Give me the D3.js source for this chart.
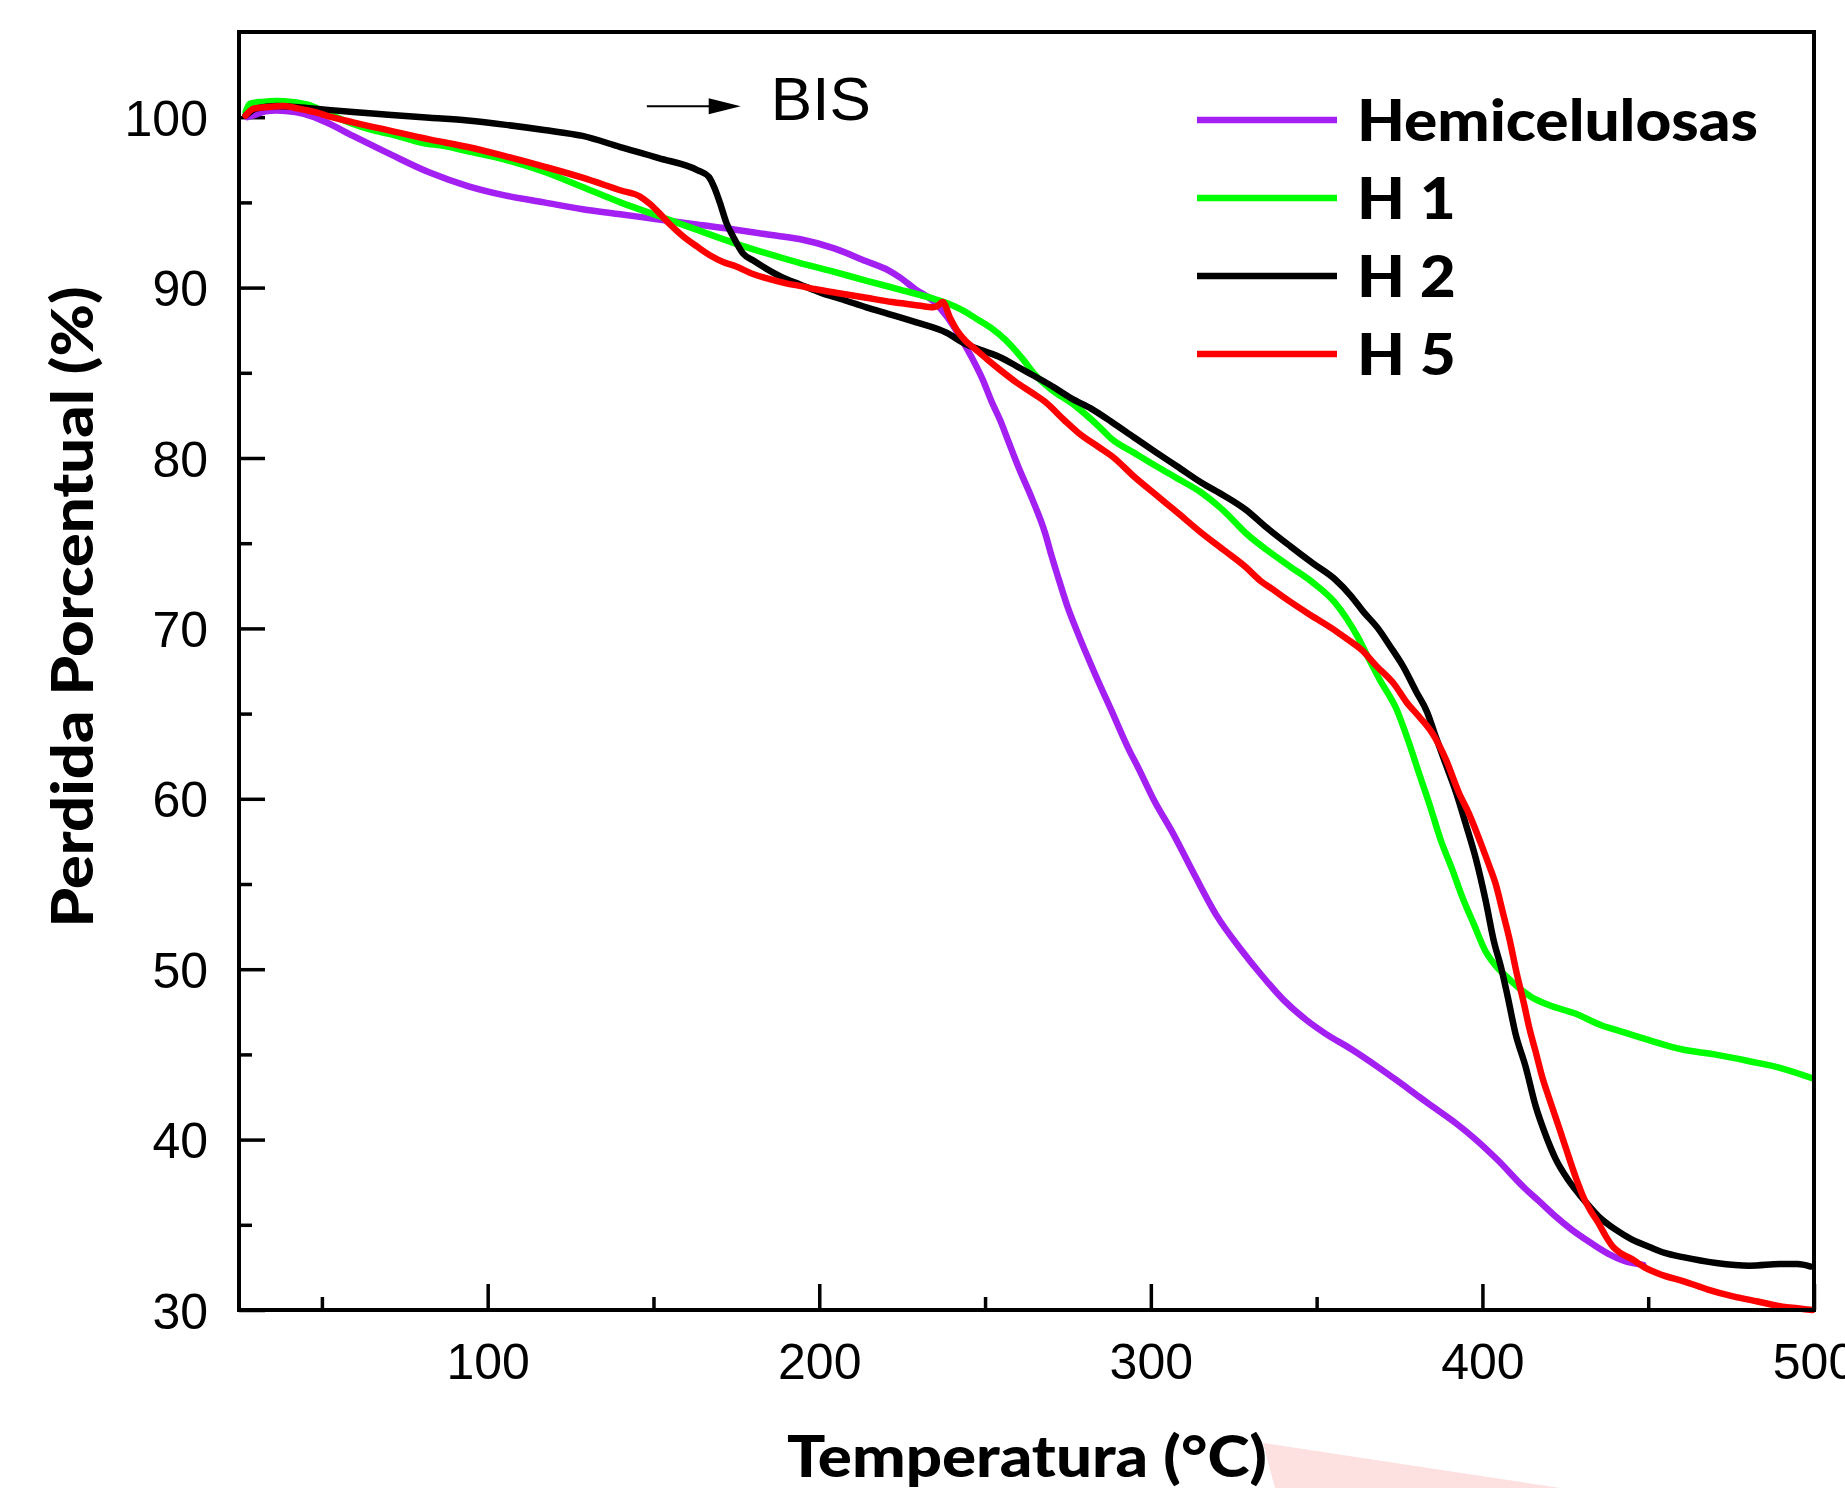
<!DOCTYPE html>
<html><head><meta charset="utf-8">
<script src="https://cdn.jsdelivr.net/npm/d3@7"></script>
<style>html,body{margin:0;padding:0;background:#fff;} svg{display:block;}</style>
</head><body>
<svg id="chart" width="1845" height="1488"></svg>
<script>
// ---------- data ----------
const xTicksMajor = [100, 200, 300, 400, 500];
const xTicksMinor = [50, 150, 250, 350, 450];
const yTicksMajor = [30, 40, 50, 60, 70, 80, 90, 100];
const yTicksMinor = [35, 45, 55, 65, 75, 85, 95];
const seriesNames = ["Hemicelulosas", "H 1", "H 2", "H 5"];
const seriesColors = ["#a31ff2", "#00ff00", "#000000", "#ff0000"];
const xTitle = "Temperatura (°C)";
const yTitle = "Perdida Porcentual (%)";
const annotationText = "BIS";

const hemicelulosas = [[27.5,100.0],[29.4,100.1],[33,100.35],[36.3,100.4],[42,100.3],[47,100.05],[51.3,99.7],[59.4,98.9],[70.9,97.8],[82.5,96.75],[94,95.96],[105.5,95.4],[117,95.0],[128.6,94.6],[140,94.3],[151.6,94.0],[163,93.7],[174.8,93.4],[185,93.1],[194,92.85],[204.5,92.3],[214,91.56],[221,91.0],[224.3,90.6],[229,89.9],[234.4,89.2],[238.5,88.3],[242.5,87.1],[246,85.9],[249.3,84.6],[252,83.3],[254.6,82.2],[257,81.0],[260,79.5],[264.2,77.6],[268.1,75.6],[270,74.3],[272.2,72.9],[275,71.2],[277.6,69.9],[283,67.4],[288.3,65.1],[293.6,62.8],[296,61.9],[301,59.9],[306.6,58.0],[313,55.6],[320,53.1],[327,51.2],[333.6,49.6],[340,48.2],[347,47.0],[352.4,46.25],[360.5,45.3],[368.2,44.3],[374,43.5],[381,42.5],[386,41.8],[392,40.96],[398,40.0],[404.6,38.8],[412.5,37.2],[417,36.4],[422,35.5],[427,34.7],[433,33.9],[438,33.3],[442.6,32.9],[448.5,32.65]];

const h1 = [[27,100.3],[28.3,100.8],[32,100.9],[36.3,100.95],[41,100.9],[45.5,100.75],[50,100.4],[53.6,100.07],[59.4,99.6],[65,99.25],[70.9,99.0],[80.2,98.5],[87,98.3],[94,98.0],[105.5,97.5],[117,96.8],[128.6,95.9],[140,95.0],[151.6,94.2],[163,93.4],[174.5,92.6],[186,91.9],[194,91.45],[204,90.95],[214.3,90.4],[224,89.9],[234.4,89.35],[238.4,89.1],[243,88.7],[248,88.1],[252,87.6],[256,86.96],[261.4,85.8],[265,84.9],[269.5,84.1],[277.6,83.0],[284.6,81.8],[288.3,81.1],[295,80.3],[301.8,79.5],[308,78.8],[315.3,77.96],[322,76.9],[328.6,75.6],[335,74.6],[342.2,73.6],[348.8,72.7],[355.6,71.5],[359,70.6],[362.4,69.5],[365,68.5],[369,67.0],[374,65.3],[378,63.2],[380.7,61.6],[384,59.7],[387.4,57.6],[391,55.8],[394,54.2],[397.5,52.6],[400.8,51.1],[404,50.2],[407.6,49.5],[411,48.9],[414.5,48.4],[420,47.9],[428,47.4],[436,46.7],[441,46.4],[450,45.85],[460,45.3],[470,45.0],[480.5,44.6],[490,44.2],[499.5,43.6]];

const h2 = [[27,100.1],[30,100.5],[36.3,100.65],[42,100.6],[48,100.5],[59.4,100.3],[70,100.15],[82.5,99.97],[94,99.8],[105.5,99.55],[117,99.25],[128.6,98.9],[140,98.25],[151.6,97.6],[163.2,96.9],[166.7,96.5],[168.5,95.8],[170,95.0],[172,93.8],[174,93.0],[177,92.0],[180,91.6],[185,91.0],[190,90.5],[194,90.2],[200.4,89.7],[207,89.3],[214.2,88.84],[221,88.45],[229.3,87.96],[238.4,87.35],[244,86.7],[249.3,86.3],[254.7,85.9],[259.4,85.4],[264,84.9],[269.5,84.3],[276,83.5],[282,82.9],[288.3,82.1],[295,81.2],[301.8,80.3],[308,79.5],[315.3,78.55],[322,77.8],[328.6,76.97],[335,75.9],[342.2,74.8],[349,73.8],[355.6,72.87],[360.4,71.9],[364,71.0],[368.5,70.0],[372,69.0],[376,67.8],[380,66.3],[383.3,65.1],[386,63.6],[389,62.0],[392,60.4],[395,58.5],[398,56.5],[401,54.0],[403.5,51.6],[405.5,50.2],[407.5,48.5],[410,46.2],[413,44.3],[416,42.0],[419,40.3],[422,38.9],[426,37.6],[430,36.6],[435,35.5],[440.3,34.7],[445,34.15],[450.4,33.7],[455,33.35],[460.5,33.1],[470.5,32.76],[480.5,32.6],[490.5,32.7],[495,32.7],[499,32.55]];

const h5 = [[27,100.1],[29.4,100.5],[34,100.6],[38.6,100.65],[43,100.5],[47.9,100.3],[53,100.0],[59.4,99.7],[70.8,99.2],[82.4,98.7],[94,98.25],[105.5,97.7],[117,97.1],[128.6,96.45],[140.2,95.7],[145.9,95.35],[149,94.9],[151.6,94.4],[155,93.7],[159,93.0],[163.2,92.4],[167,91.9],[171,91.5],[174.8,91.25],[180,90.8],[184,90.55],[190,90.25],[194,90.1],[199,89.9],[205,89.7],[214.2,89.4],[222,89.15],[230,88.95],[234.4,88.85],[235.5,88.9],[237.2,89.15],[239.5,88.2],[241.5,87.5],[244,86.9],[247,86.4],[250.6,85.8],[255,85.1],[259,84.5],[264.4,83.8],[268.1,83.3],[274,82.2],[278,81.5],[284.6,80.6],[288.3,80.1],[295,78.9],[301.8,77.8],[308,76.8],[315.3,75.6],[322,74.6],[328.6,73.6],[333,72.8],[336.7,72.3],[341,71.7],[348,70.8],[355.4,69.9],[359,69.4],[363.5,68.75],[368,67.8],[373.5,66.7],[377,65.7],[381,64.8],[384.7,63.9],[389,62.3],[392.8,60.4],[396,59.1],[399.5,57.4],[402,56.1],[404,55.0],[406.2,53.3],[408,51.9],[410.3,49.8],[412.5,48.0],[414.2,46.5],[416,45.2],[418,43.7],[420,42.5],[422,41.35],[425,39.6],[428.3,37.7],[430.5,36.6],[433,35.7],[435,35.1],[437,34.4],[439.4,33.7],[442,33.3],[445,33.0],[448.9,32.5],[455,32.0],[460.5,31.7],[468,31.2],[475.6,30.8],[483,30.5],[490.5,30.2],[495,30.1],[499.5,30.0]];

const seriesData = [hemicelulosas, h1, h2, h5];
// annotation arrow (data coordinates)
const arrowFrom = [148, 100.64];
const arrowTo = [176.3, 100.64];
const annotationPos = [185.4, 99.82];

// ---------- layout ----------
const W = 1845, H = 1488;
const plot = {left: 239, right: 1814, top: 32, bottom: 1310};
const x = d3.scaleLinear().domain([25, 500]).range([plot.left, plot.right]);
const y = d3.scaleLinear().domain([30, 105]).range([plot.bottom, plot.top]);

const svg = d3.select("#chart");
svg.append("rect").attr("width", W).attr("height", H).attr("fill", "#fff");

// pink artifact near the x title
svg.append("polygon")
  .attr("points", "1263,1443 1560,1488 1275,1488")
  .attr("fill", "#fde0e0");

const tickFont = "'Liberation Sans', Arial, sans-serif";
const boldFont = "Lato, 'Noto Sans', sans-serif";

// axes
const gx = svg.append("g").attr("transform", `translate(0,${plot.bottom})`)
  .call(d3.axisBottom(x).tickValues(xTicksMajor).tickSize(-26).tickPadding(33).tickFormat(d3.format("d")));
const gxm = svg.append("g").attr("transform", `translate(0,${plot.bottom})`)
  .call(d3.axisBottom(x).tickValues(xTicksMinor).tickSize(-13).tickFormat(""));
const gy = svg.append("g").attr("transform", `translate(${plot.left},0)`)
  .call(d3.axisLeft(y).tickValues(yTicksMajor).tickSize(-26).tickPadding(31).tickFormat(d3.format("d")));
const gym = svg.append("g").attr("transform", `translate(${plot.left},0)`)
  .call(d3.axisLeft(y).tickValues(yTicksMinor).tickSize(-13).tickFormat(""));

[gx, gxm, gy, gym].forEach(g => {
  g.select(".domain").remove();
  g.selectAll(".tick line").attr("stroke", "#000").attr("stroke-width", 3.5);
  g.selectAll(".tick text").attr("fill", "#000").style("font-family", tickFont).style("font-size", "50px");
});
gy.selectAll(".tick text").attr("dy", "0.36em");

// curves
const line = d3.line().x(d => x(d[0])).y(d => y(d[1])).curve(d3.curveMonotoneX);
seriesData.forEach((s, i) => {
  svg.append("path").datum(s)
    .attr("d", line)
    .attr("fill", "none")
    .attr("stroke", seriesColors[i])
    .attr("stroke-width", 6.5)
    .attr("stroke-linejoin", "round")
    .attr("stroke-linecap", "round");
});

// frame
svg.append("rect")
  .attr("x", plot.left).attr("y", plot.top)
  .attr("width", plot.right - plot.left).attr("height", plot.bottom - plot.top)
  .attr("fill", "none").attr("stroke", "#000").attr("stroke-width", 4);

// annotation arrow
svg.append("line")
  .attr("x1", x(arrowFrom[0])).attr("y1", y(arrowFrom[1]))
  .attr("x2", x(arrowTo[0]) - 30).attr("y2", y(arrowTo[1]))
  .attr("stroke", "#000").attr("stroke-width", 2);
{
  const tx = x(arrowTo[0]), ty = y(arrowTo[1]);
  svg.append("polygon")
    .attr("points", `${tx},${ty} ${tx - 32},${ty - 8} ${tx - 32},${ty + 8}`)
    .attr("fill", "#000");
}
svg.append("text")
  .attr("x", x(annotationPos[0])).attr("y", y(annotationPos[1]))
  .style("font-family", tickFont).style("font-size", "62px")
  .attr("fill", "#000").text(annotationText);

// axis titles
svg.append("text")
  .attr("x", 1027).attr("y", 1477)
  .attr("text-anchor", "middle")
  .style("font-family", boldFont).style("font-weight", "900").style("font-size", "58px")
  .attr("textLength", 480).attr("lengthAdjust", "spacingAndGlyphs")
  .attr("fill", "#000").text(xTitle);

svg.append("text")
  .attr("transform", "translate(93,607) rotate(-90)")
  .attr("text-anchor", "middle")
  .style("font-family", boldFont).style("font-weight", "900").style("font-size", "58px")
  .attr("textLength", 641).attr("lengthAdjust", "spacingAndGlyphs")
  .attr("fill", "#000").text(yTitle);

// legend
const legendRows = [120, 198, 276, 354];
const lg = svg.append("g");
const labels = [];
seriesNames.forEach((name, i) => {
  lg.append("line")
    .attr("x1", 1197).attr("x2", 1337)
    .attr("y1", legendRows[i]).attr("y2", legendRows[i])
    .attr("stroke", seriesColors[i]).attr("stroke-width", 6.5);
  const t = lg.append("text")
    .attr("x", 1357).attr("y", legendRows[i] + 21)
    .style("font-family", boldFont).style("font-weight", "900").style("font-size", "57px")
    .attr("fill", "#000").text(name);
  labels.push(t);
});
const k = 401 / labels[0].node().getComputedTextLength();
labels.forEach(t => {
  const len = t.node().getComputedTextLength();
  t.attr("textLength", len * k).attr("lengthAdjust", "spacingAndGlyphs");
});
</script>
</body></html>
